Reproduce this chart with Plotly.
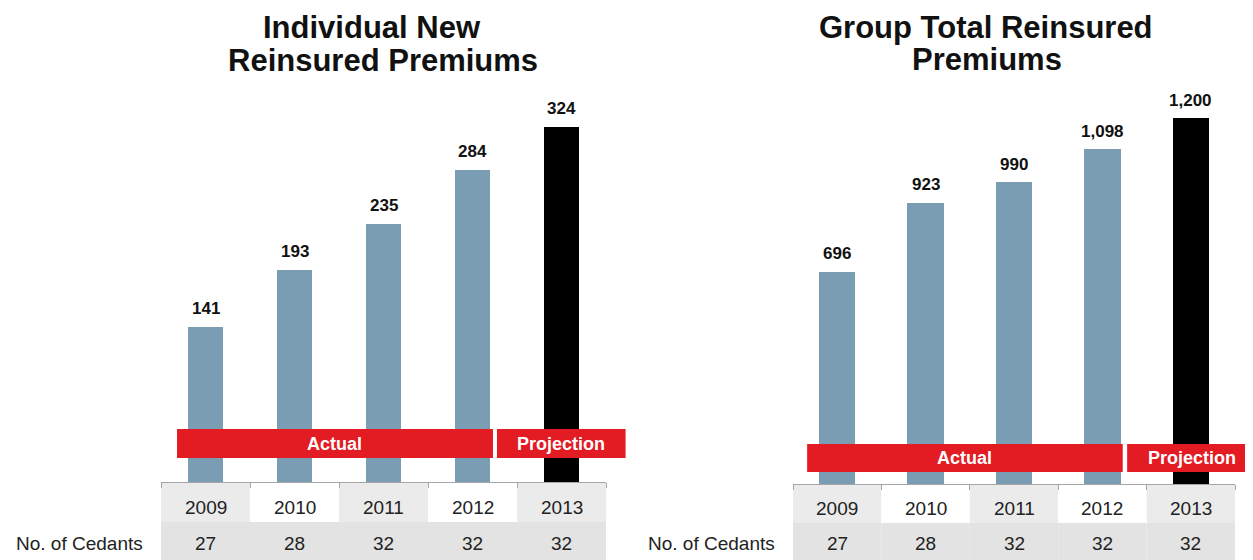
import plotly.graph_objects as go

# ---------------- data ----------------
years = ["2009", "2010", "2011", "2012", "2013"]
individual_new = [141, 193, 235, 284, 324]
group_total = [696, 923, 990, 1098, 1200]
cedants = [27, 28, 32, 32, 32]
bar_colors = ["#7a9db3", "#7a9db3", "#7a9db3", "#7a9db3", "#000000"]
period_labels = ["Actual", "Projection"]
row_label = "No. of Cedants"
titles = [["Individual New", "Reinsured Premiums"], ["Group Total Reinsured", "Premiums"]]

W, H = 1253, 560
OFF = 8  # page body margin
FONT = "Liberation Sans, Arial, sans-serif"
RED = "#e31b23"
AXIS_GREY = "#a6a6a6"


def fx(p):
    return (p - OFF) / W


def fy(p):
    return 1 - (p - OFF) / H


panels = [
    dict(values=individual_new, titles=titles[0], title_x=[372, 383], title_y=[28, 60],
         x0=161, x1=606, base=482, top=98, ymax=350, bw=0.40,
         band=(429, 458), actual=(-0.32, 3.23), proj=(3.275, 4.72),
         year_row=(482, 522), ced_row=(522, 560), year_y=507, ced_y=543.5),
    dict(values=group_total, titles=titles[1], title_x=[986, 987], title_y=[28, 59],
         x0=793, x1=1235, base=484, top=88.4, ymax=1300, bw=0.41,
         band=(444, 472), actual=(-0.34, 3.23), proj=(3.28, 4.75),
         year_row=(484, 523), ced_row=(523, 560), year_y=508, ced_y=543.5),
]

fig = go.Figure()
shapes = []
annotations = []
n = len(years)


def dom(c):
    # category coordinate -> fraction of x domain
    return (c + 0.5) / n


for k, p in enumerate(panels):
    sfx = "" if k == 0 else str(k + 1)
    xa, ya = "x" + sfx, "y" + sfx
    fig.add_trace(go.Bar(
        x=list(range(n)), y=p["values"], width=p["bw"],
        marker=dict(color=bar_colors, line=dict(width=0)),
        xaxis=xa, yaxis=ya, hoverinfo="skip", showlegend=False,
    ))
    fig.update_layout(**{
        "xaxis" + sfx: dict(domain=[fx(p["x0"]), fx(p["x1"])], range=[-0.5, n - 0.5],
                            anchor=ya, showgrid=False, zeroline=False,
                            showline=True, linecolor=AXIS_GREY, linewidth=1,
                            tickvals=[i - 0.5 for i in range(n + 1)], ticks="outside",
                            ticklen=5, tickcolor=AXIS_GREY, tickwidth=1,
                            showticklabels=False, fixedrange=True),
        "yaxis" + sfx: dict(domain=[fy(p["base"]), fy(p["top"])], range=[0, p["ymax"]],
                            anchor=xa, visible=False, showgrid=False, zeroline=False,
                            fixedrange=True),
    })
    xd = xa + " domain"

    # value labels
    for i, v in enumerate(p["values"]):
        annotations.append(dict(x=i, y=v, xref=xa, yref=ya, text=f"{v:,}",
                                showarrow=False, xanchor="center", yanchor="bottom", yshift=7,
                                font=dict(family=FONT, size=17, color="#111111", weight="bold")))

    # table cells
    for i in range(n):
        shapes.append(dict(type="rect", xref=xd, yref="paper", layer="below",
                           x0=dom(i - 0.5), x1=dom(i + 0.5),
                           y0=fy(p["year_row"][1]), y1=fy(p["year_row"][0]),
                           fillcolor="#ebebeb" if i % 2 == 0 else "#ffffff", line=dict(width=0)))
        shapes.append(dict(type="rect", xref=xd, yref="paper", layer="below",
                           x0=dom(i - 0.5), x1=dom(i + 0.5),
                           y0=fy(p["ced_row"][1]), y1=fy(p["ced_row"][0]),
                           fillcolor="#e3e3e3", line=dict(width=0)))
        annotations.append(dict(x=i, y=fy(p["year_y"]), xref=xa, yref="paper", text=years[i],
                                showarrow=False, xanchor="center", yanchor="middle",
                                font=dict(family=FONT, size=19, color="#222222")))
        annotations.append(dict(x=i, y=fy(p["ced_y"]), xref=xa, yref="paper", text=str(cedants[i]),
                                showarrow=False, xanchor="center", yanchor="middle",
                                font=dict(family=FONT, size=19, color="#222222")))
    annotations.append(dict(x=-16 / (p["x1"] - p["x0"]), y=fy(p["ced_y"]), xref=xd, yref="paper",
                            text=row_label, showarrow=False, xanchor="right", yanchor="middle",
                            font=dict(family=FONT, size=19, color="#222222")))

    # red period bands
    for lab, (a, b) in zip(period_labels, [p["actual"], p["proj"]]):
        shapes.append(dict(type="rect", xref=xd, yref="paper", layer="above",
                           x0=dom(a), x1=dom(b), y0=fy(p["band"][1]), y1=fy(p["band"][0]),
                           fillcolor=RED, line=dict(width=0)))
        annotations.append(dict(x=(dom(a) + dom(b)) / 2, y=fy((p["band"][0] + p["band"][1]) / 2),
                                xref=xd, yref="paper", text=lab, showarrow=False,
                                xanchor="center", yanchor="middle",
                                font=dict(family=FONT, size=18, color="#ffffff", weight="bold")))

    # titles
    for t, tx, ty in zip(p["titles"], p["title_x"], p["title_y"]):
        annotations.append(dict(x=fx(tx), y=fy(ty), xref="paper", yref="paper", text=t,
                                showarrow=False, xanchor="center", yanchor="middle",
                                font=dict(family=FONT, size=31, color="#111111", weight="bold")))

fig.update_layout(
    width=W, height=H, margin=dict(l=0, r=0, t=0, b=0),
    paper_bgcolor="#ffffff", plot_bgcolor="rgba(0,0,0,0)",
    shapes=shapes, annotations=annotations, bargap=0, showlegend=False,
)

fig.write_html("out.html", config={"displayModeBar": False})
